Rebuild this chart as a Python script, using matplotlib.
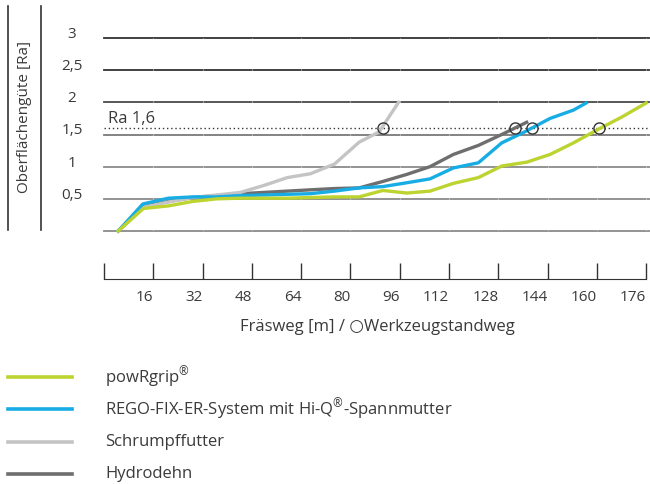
import matplotlib.pyplot as plt
from matplotlib.lines import Line2D

plt.rcParams["font.family"] = ["Open Sans", "DejaVu Sans"]
plt.rcParams["font.size"] = 11
plt.rcParams["text.color"] = "#3a3a3a"
plt.rcParams["mathtext.default"] = "regular"

W, H = 650, 484

# Fräsweg [m] und Oberflächengüte [Ra] je Spannsystem
x_powrgrip = [4.6, 12.8, 20.9, 28.8, 36.6, 44.3, 52, 59.5, 67, 74.8, 82.8, 90.5,
              98.3, 105.8, 113.4, 121.5, 129.1, 137.2, 144.8, 152.4, 160, 168, 176]
y_powrgrip = [0, 0.35, 0.39, 0.46, 0.50, 0.51, 0.51, 0.51, 0.52, 0.53, 0.53, 0.63,
              0.59, 0.62, 0.74, 0.83, 1.01, 1.07, 1.19, 1.37, 1.57, 1.77, 1.99]

x_regofix = [4.6, 12.6, 20.9, 28.8, 36.6, 44.3, 52, 59.5, 67, 74.8, 82.8, 90.5,
             98.3, 105.8, 113.4, 121.5, 129.1, 136.5, 144.8, 152.4, 156.5]
y_regofix = [0, 0.42, 0.51, 0.53, 0.53, 0.55, 0.56, 0.57, 0.58, 0.62, 0.67, 0.69,
             0.75, 0.81, 0.98, 1.06, 1.37, 1.54, 1.75, 1.88, 1.99]

x_schrumpf = [4.6, 12.8, 20.9, 28.8, 36.6, 44.3, 52, 59.5, 67, 74.8, 82.8, 89.3, 95.6]
y_schrumpf = [0, 0.37, 0.45, 0.52, 0.56, 0.60, 0.71, 0.83, 0.89, 1.04, 1.38, 1.54, 2.0]

x_hydro = [4.6, 12.8, 20.9, 28.8, 36.6, 44.3, 52, 59.5, 67, 74.8, 82.8, 90.5,
           98.3, 105.8, 113.4, 121.5, 129.1, 137.2]
y_hydro = [0, 0.38, 0.46, 0.52, 0.55, 0.58, 0.60, 0.62, 0.64, 0.66, 0.67, 0.77,
           0.88, 1.0, 1.19, 1.33, 1.50, 1.69]

series_names = ["powRgrip$^{®}$", "REGO-FIX-ER-System mit Hi-Q$^{®}$-Spannmutter",
                "Schrumpffutter", "Hydrodehn"]
series_colors = ["#bdd330", "#17ade4", "#c4c4c4", "#6e6e6e"]

# Werkzeugstandweg bei Ra 1,6
standweg_x = [90.4, 133.4, 138.8, 160.6]
ra_limit = 1.6

y_grid = [0, 0.5, 1, 1.5, 2, 2.5, 3]
grid_colors = ["#8a8a8a", "#8a8a8a", "#8a8a8a", "#7a7a7a", "#4a4a4a", "#333333", "#333333"]
y_ticks = [0.5, 1, 1.5, 2, 2.5, 3]
y_ticklabels = ["0,5", "1", "1,5", "2", "2,5", "3"]
x_ticks = list(range(0, 177, 16))
x_ticklabels = ["" if t == 0 else str(t) for t in x_ticks]
x_max = 176.9


def fx(px):
    return px / W


def fy(py):
    return 1 - py / H


fig = plt.figure(figsize=(W / 100, H / 100), dpi=100)

ax = fig.add_axes([fx(104), fy(231), fx(649) - fx(104), fy(38) - fy(231)])
ax.set_xlim(0, x_max)
ax.set_ylim(0, 3)
for s in ax.spines.values():
    s.set_visible(False)
ax.set_xticks([])
ax.set_yticks(y_ticks, y_ticklabels)
ax.tick_params(axis="y", length=0, pad=23, labelsize=11, labelcolor="#3a3a3a")
for lab in ax.get_yticklabels():
    lab.set_horizontalalignment("center")
    lab.set_verticalalignment("baseline")

for g, c in zip(y_grid, grid_colors):
    ax.axhline(g, color=c, lw=1.3, clip_on=False, zorder=1)
for t in x_ticks[1:]:
    ax.axvline(t, color="white", lw=0.8, alpha=0.35, zorder=1.5)

ax.axhline(ra_limit, color="#333333", lw=1, ls=(0, (1, 2)), zorder=2)
ax.text(1.3, 1.674, "Ra 1,6", fontsize=12, va="baseline", ha="left")

series = [(x_powrgrip, y_powrgrip), (x_regofix, y_regofix),
          (x_schrumpf, y_schrumpf), (x_hydro, y_hydro)]
for (xs, ys), c in zip(series[::-1], series_colors[::-1]):
    ax.plot(xs, ys, color=c, lw=2.4, clip_on=False, zorder=3)

ax.plot(standweg_x, [ra_limit] * len(standweg_x), "o", ms=8, mfc="none",
        mec="#333333", mew=1, zorder=5, clip_on=False)

# separate x-Achse
axb = fig.add_axes([fx(104), fy(279), fx(649) - fx(104), 0.01])
axb.set_xlim(0, x_max)
axb.patch.set_visible(False)
for k in ["top", "left", "right"]:
    axb.spines[k].set_visible(False)
axb.spines["bottom"].set_bounds(0, 176)
axb.spines["bottom"].set_color("#333333")
axb.set_yticks([])
axb.set_xticks(x_ticks, x_ticklabels)
axb.tick_params(axis="x", direction="in", length=11.5, width=1, color="#333333",
                pad=8, labelsize=11, labelcolor="#3a3a3a")
for lab in axb.get_xticklabels():
    lab.set_horizontalalignment("right")

fig.text(fx(377), fy(327), "Fräsweg [m] / ○Werkzeugstandweg", ha="center",
         va="center", fontsize=12)
fig.text(fx(25), fy(117), "Oberflächengüte [Ra]", rotation=90, ha="center",
         va="center", fontsize=11)

# seitliche Linien
for px in [8, 40.7]:
    fig.add_artist(Line2D([fx(px), fx(px)], [fy(6), fy(230)], color="#333333", lw=1.2))

# Legende
for i, (name, c) in enumerate(zip(series_names, series_colors)):
    py = 377 + i * 32.4
    fig.add_artist(Line2D([fx(8), fx(72)], [fy(py), fy(py)], color=c, lw=2.6))
    fig.text(fx(105), fy(py), name, ha="left", va="center", fontsize=12)

fig.savefig("out.png", dpi=100)
